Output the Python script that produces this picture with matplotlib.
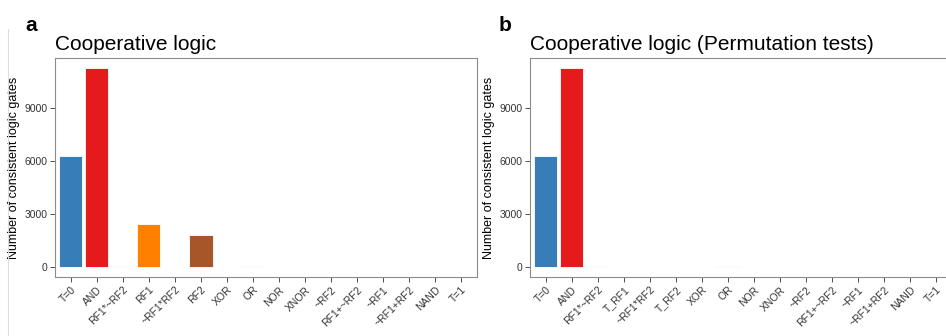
import numpy as np
import matplotlib.pyplot as plt
from matplotlib.lines import Line2D

plt.rcParams['font.family'] = ['Liberation Sans', 'DejaVu Sans']

gates_a = ["T=0", "AND", "RF1*~RF2", "RF1", "~RF1*RF2", "RF2", "XOR", "OR",
           "NOR", "XNOR", "~RF2", "RF1+~RF2", "~RF1", "~RF1+RF2", "NAND", "T=1"]
gates_b = ["T=0", "AND", "RF1*~RF2", "T_RF1", "~RF1*RF2", "T_RF2", "XOR", "OR",
           "NOR", "XNOR", "~RF2", "RF1+~RF2", "~RF1", "~RF1+RF2", "NAND", "T=1"]

counts_a = [6300, 11250, 40, 2420, 25, 1800, 0, 45, 0, 0, 0, 0, 0, 0, 0, 0]
counts_b = [6300, 11250, 40, 0, 25, 0, 0, 45, 0, 0, 0, 0, 0, 0, 0, 0]

gate_colors = ["#377EB8", "#E41A1C", "#CDEBC6", "#FF7F00", "#FCFCE0", "#A65628",
               "#BBBBBB", "#D9D9D9", "#CCCCCC", "#CCCCCC", "#CCCCCC", "#CCCCCC",
               "#CCCCCC", "#CCCCCC", "#CCCCCC", "#CCCCCC"]

fig = plt.figure(figsize=(9.46, 3.36), dpi=100)


def draw_panel(ax, gates, counts, title, letter, lx):
    x = np.arange(len(gates))
    ax.bar(x, counts, width=0.9, color=gate_colors, edgecolor="white", linewidth=0.6)
    ax.set_xlim(-0.6, len(gates) - 0.4)
    ymax = max(counts)
    ax.set_ylim(-0.05 * ymax, 1.05 * ymax)
    ax.set_yticks([0, 3000, 6000, 9000])
    ax.set_xticks(x)
    ax.set_xticklabels(gates, rotation=45, ha="right", rotation_mode="anchor",
                       fontsize=7.5, color="#333333")
    ax.tick_params(axis="y", labelsize=7.5, labelcolor="#333333", color="#333333",
                   length=3.5, width=0.6, pad=2)
    ax.tick_params(axis="x", color="#333333", length=3.5, width=0.6, pad=2)
    for s in ax.spines.values():
        s.set_color("#8C8C8C")
        s.set_linewidth(0.8)
    ax.set_ylabel("Number of consistent logic gates", fontsize=9, labelpad=3)
    ax.set_title(title, loc="left", fontsize=15, pad=6)
    fig.text(lx, 0.925, letter, fontsize=15, fontweight="bold", va="center")


# panel b runs a little past the right edge, so its right border is not shown
ax1 = fig.add_axes([0.0581, 0.1756, 0.446, 0.652])
ax2 = fig.add_axes([0.5603, 0.1756, 0.446, 0.652])
draw_panel(ax1, gates_a, counts_a, "Cooperative logic", "a", 0.027)
draw_panel(ax2, gates_b, counts_b, "Cooperative logic (Permutation tests)", "b", 0.527)

fig.add_artist(Line2D([0.0085, 0.0085], [0.0, 0.915], color="#DDDDDD", linewidth=0.8))

fig.savefig("out.png", dpi=100)
